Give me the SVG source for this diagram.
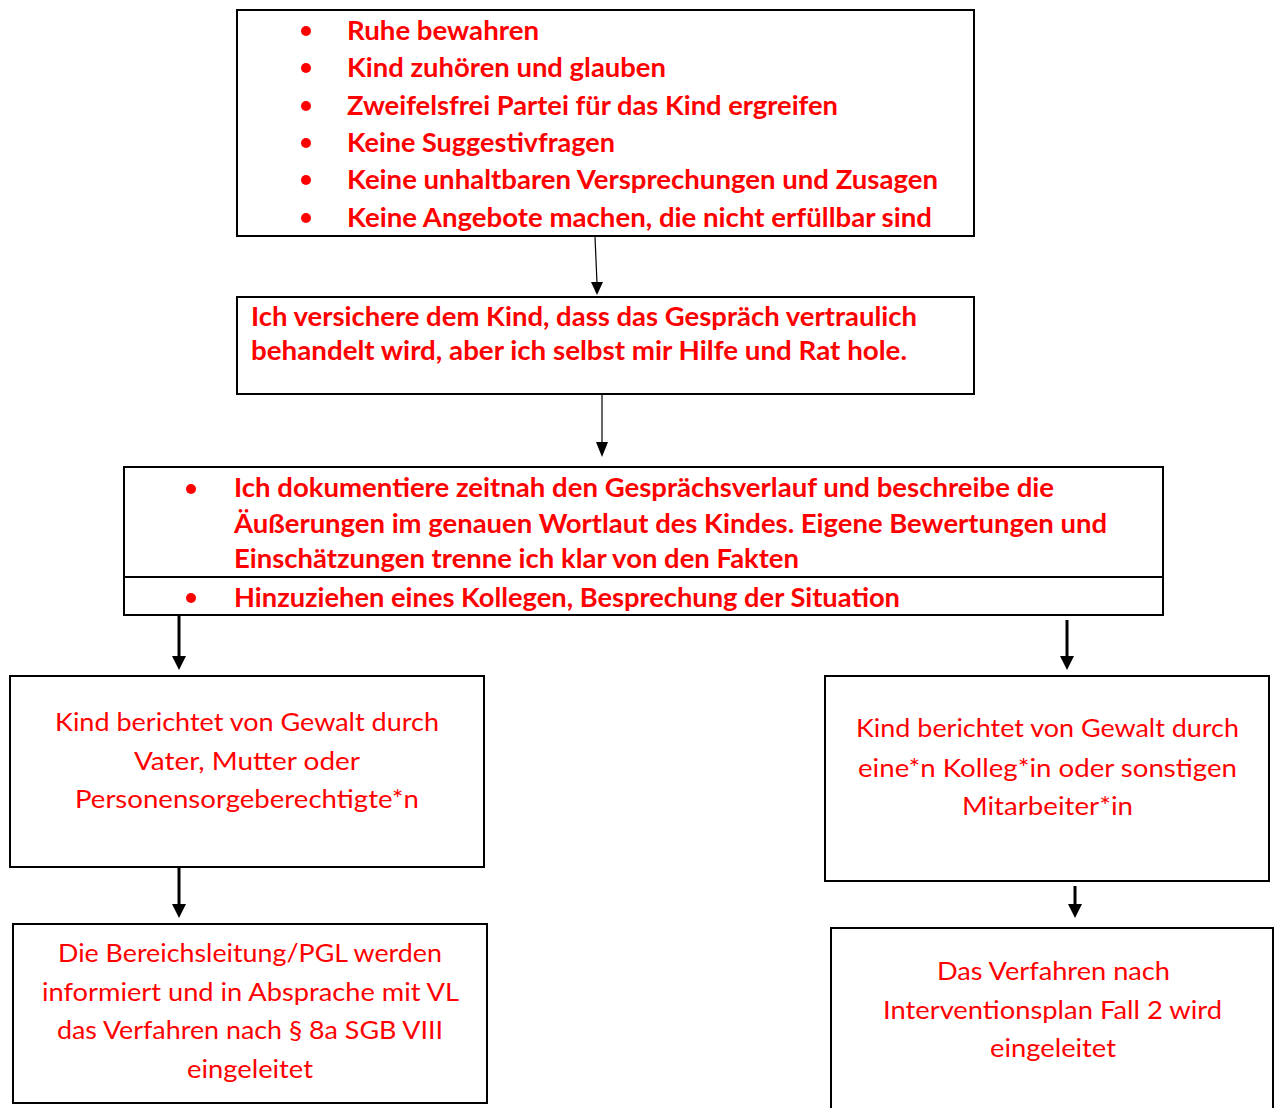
<svg xmlns="http://www.w3.org/2000/svg" width="1275" height="1108" viewBox="0 0 1275 1108">
<style>
.box{fill:#fff;stroke:#000;stroke-width:2}
.b{font-family:Lato,"Liberation Sans",sans-serif;font-weight:bold;font-size:27px;fill:#ff0000}
.r{font-family:Lato,"Liberation Sans",sans-serif;font-size:25px;fill:#ff0000}
.dot{fill:#ff0000}
.ln{stroke:#000;fill:none}
.hd{fill:#000}
</style>
<rect width="1275" height="1108" fill="#fff"/>
<g id="n1">
<rect class="box" x="237" y="10" width="737" height="226"/>
<circle class="dot" cx="306" cy="31" r="5"/>
<circle class="dot" cx="306" cy="68" r="5"/>
<circle class="dot" cx="306" cy="106" r="5"/>
<circle class="dot" cx="306" cy="143" r="5"/>
<circle class="dot" cx="306" cy="180" r="5"/>
<circle class="dot" cx="306" cy="218" r="5"/>
<text class="b" x="347" y="40" textLength="192" lengthAdjust="spacingAndGlyphs">Ruhe bewahren</text>
<text class="b" x="347" y="77" textLength="319" lengthAdjust="spacingAndGlyphs">Kind zuhören und glauben</text>
<text class="b" x="347" y="115" textLength="491" lengthAdjust="spacingAndGlyphs">Zweifelsfrei Partei für das Kind ergreifen</text>
<text class="b" x="347" y="152" textLength="268" lengthAdjust="spacingAndGlyphs">Keine Suggestivfragen</text>
<text class="b" x="347" y="189" textLength="591" lengthAdjust="spacingAndGlyphs">Keine unhaltbaren Versprechungen und Zusagen</text>
<text class="b" x="347" y="227" textLength="585" lengthAdjust="spacingAndGlyphs">Keine Angebote machen, die nicht erfüllbar sind</text>
</g>
<g id="n2">
<rect class="box" x="237" y="297" width="737" height="97"/>
<text class="b" x="251" y="326" textLength="666" lengthAdjust="spacingAndGlyphs">Ich versichere dem Kind, dass das Gespräch vertraulich</text>
<text class="b" x="251" y="360" textLength="656" lengthAdjust="spacingAndGlyphs">behandelt wird, aber ich selbst mir Hilfe und Rat hole.</text>
</g>
<g id="n3">
<rect class="box" x="124" y="467" width="1039" height="148"/>
<line class="ln" x1="124" y1="577" x2="1163" y2="577" stroke-width="2"/>
<circle class="dot" cx="191" cy="489" r="5"/>
<circle class="dot" cx="191" cy="598" r="5"/>
<text class="b" x="234" y="497" textLength="820" lengthAdjust="spacingAndGlyphs">Ich dokumentiere zeitnah den Gesprächsverlauf und beschreibe die</text>
<text class="b" x="234" y="533" textLength="873" lengthAdjust="spacingAndGlyphs">Äußerungen im genauen Wortlaut des Kindes. Eigene Bewertungen und</text>
<text class="b" x="234" y="568" textLength="565" lengthAdjust="spacingAndGlyphs">Einschätzungen trenne ich klar von den Fakten</text>
<text class="b" x="234" y="607" textLength="666" lengthAdjust="spacingAndGlyphs">Hinzuziehen eines Kollegen, Besprechung der Situation</text>
</g>
<g id="n4">
<rect class="box" x="10" y="676" width="474" height="191"/>
<text class="r" x="55" y="731" textLength="384" lengthAdjust="spacingAndGlyphs">Kind berichtet von Gewalt durch</text>
<text class="r" x="134" y="770" textLength="226" lengthAdjust="spacingAndGlyphs">Vater, Mutter oder</text>
<text class="r" x="75" y="808" textLength="344" lengthAdjust="spacingAndGlyphs">Personensorgeberechtigte*n</text>
</g>
<g id="n5">
<rect class="box" x="825" y="676" width="444" height="205"/>
<text class="r" x="856" y="737" textLength="383" lengthAdjust="spacingAndGlyphs">Kind berichtet von Gewalt durch</text>
<text class="r" x="858" y="777" textLength="379" lengthAdjust="spacingAndGlyphs">eine*n Kolleg*in oder sonstigen</text>
<text class="r" x="962" y="815" textLength="171" lengthAdjust="spacingAndGlyphs">Mitarbeiter*in</text>
</g>
<g id="n6">
<rect class="box" x="13" y="924" width="474" height="179"/>
<text class="r" x="58" y="962" textLength="384" lengthAdjust="spacingAndGlyphs">Die Bereichsleitung/PGL werden</text>
<text class="r" x="42" y="1001" textLength="417" lengthAdjust="spacingAndGlyphs">informiert und in Absprache mit VL</text>
<text class="r" x="57" y="1039" textLength="386" lengthAdjust="spacingAndGlyphs">das Verfahren nach § 8a SGB VIII</text>
<text class="r" x="187" y="1078" textLength="126" lengthAdjust="spacingAndGlyphs">eingeleitet</text>
</g>
<g id="n7">
<rect class="box" x="831" y="928" width="442" height="200"/>
<text class="r" x="937" y="980" textLength="233" lengthAdjust="spacingAndGlyphs">Das Verfahren nach</text>
<text class="r" x="883" y="1019" textLength="339" lengthAdjust="spacingAndGlyphs">Interventionsplan Fall 2 wird</text>
<text class="r" x="990" y="1057" textLength="126" lengthAdjust="spacingAndGlyphs">eingeleitet</text>
</g>
<g id="connectors">
<line class="ln" x1="595" y1="237" x2="597" y2="283" stroke-width="1.2"/>
<polygon class="hd" points="591,282 603,282 597,295"/>
<line class="ln" x1="602" y1="395" x2="602" y2="443" stroke-width="1.2"/>
<polygon class="hd" points="596,442 608,442 602,457"/>
<line class="ln" x1="179" y1="616" x2="179" y2="657" stroke-width="3"/>
<polygon class="hd" points="172,656 186,656 179,670"/>
<line class="ln" x1="1067" y1="620" x2="1067" y2="657" stroke-width="3"/>
<polygon class="hd" points="1060,656 1074,656 1067,670"/>
<line class="ln" x1="179" y1="868" x2="179" y2="905" stroke-width="3"/>
<polygon class="hd" points="172,904 186,904 179,918"/>
<line class="ln" x1="1075" y1="886" x2="1075" y2="905" stroke-width="3"/>
<polygon class="hd" points="1068,904 1082,904 1075,918"/>
</g>
</svg>
